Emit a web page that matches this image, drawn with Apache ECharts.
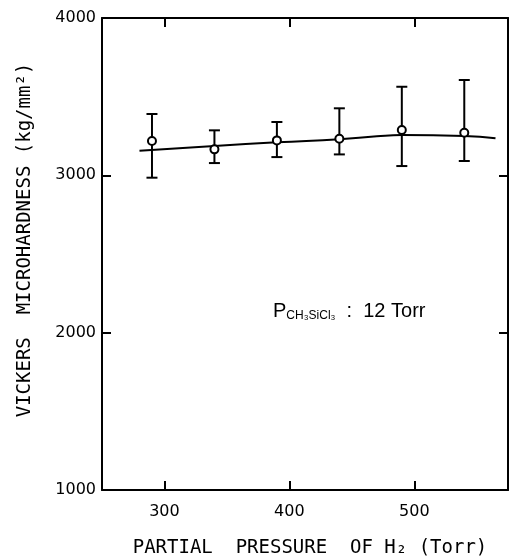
<!DOCTYPE html>
<html>
<head>
<meta charset="utf-8">
<script src="https://cdn.jsdelivr.net/npm/echarts@6/dist/echarts.min.js"></script>
<style>
  html, body { margin: 0; padding: 0; background: #fff; }
  #chart { width: 514px; height: 560px; }
</style>
</head>
<body>
<div id="chart"></div>
<script>
// measured points (H2 partial pressure, Torr)
var pressure = [290, 340, 390, 440, 490, 540];
var hardness = [3218, 3165, 3222, 3233, 3288, 3271];
var errLow   = [2985, 3078, 3116, 3133, 3059, 3091];
var errHigh  = [3390, 3286, 3339, 3426, 3563, 3606];

// hand-drawn trend curve
var fitX = [280, 340, 390, 440, 470, 490, 540, 565];
var fitY = [3156, 3186, 3210, 3229, 3248, 3256, 3250, 3236];

var xTicks = [300, 400, 500];
var yTicks = [1000, 2000, 3000, 4000];

var chart = echarts.init(document.getElementById('chart'), null, { renderer: 'canvas' });

var pointData = pressure.map(function (p, i) { return [p, hardness[i]]; });
var errData = pressure.map(function (p, i) { return [p, errLow[i], errHigh[i]]; });
var fitData = fitX.map(function (x, i) { return [x, fitY[i]]; });

var axisFont = { color: '#000', fontFamily: 'DejaVu Sans', fontSize: 16 };
var frameLine = { show: true, onZero: false, lineStyle: { color: '#000', width: 2 } };
var plain = function (v) { return String(v); };

var option = {
    animation: false,
    backgroundColor: '#fff',
    grid: { left: 102, right: 6, top: 18, bottom: 70 },
    xAxis: [
        {
            type: 'value', min: 250, max: 575, position: 'bottom',
            axisLine: frameLine,
            axisTick: { show: true, inside: true, length: 9, customValues: xTicks, lineStyle: { color: '#000', width: 2 } },
            axisLabel: Object.assign({ margin: 14, customValues: xTicks, formatter: plain }, axisFont),
            splitLine: { show: false }
        },
        {
            type: 'value', min: 250, max: 575, position: 'top',
            axisLine: frameLine,
            axisTick: { show: true, inside: true, length: 9, customValues: xTicks, lineStyle: { color: '#000', width: 2 } },
            axisLabel: { show: false },
            splitLine: { show: false }
        }
    ],
    yAxis: [
        {
            type: 'value', min: 1000, max: 4000, interval: 1000, position: 'left',
            axisLine: frameLine,
            axisTick: { show: true, inside: true, length: 9, customValues: yTicks, lineStyle: { color: '#000', width: 2 } },
            axisLabel: Object.assign({ margin: 6, customValues: yTicks, formatter: plain }, axisFont),
            splitLine: { show: false }
        },
        {
            type: 'value', min: 1000, max: 4000, interval: 1000, position: 'right',
            axisLine: frameLine,
            axisTick: { show: true, inside: true, length: 9, lineStyle: { color: '#000', width: 2 } },
            axisLabel: { show: false },
            splitLine: { show: false }
        }
    ],
    series: [
        {
            type: 'line',
            data: fitData,
            smooth: true,
            showSymbol: false,
            lineStyle: { color: '#000', width: 2 },
            z: 2
        },
        {
            type: 'custom',
            data: errData,
            renderItem: function (params, api) {
                var x = api.value(0);
                var lo = api.coord([x, api.value(1)]);
                var hi = api.coord([x, api.value(2)]);
                var w = 5.5;
                var st = { stroke: '#000', lineWidth: 2 };
                return {
                    type: 'group',
                    children: [
                        { type: 'line', shape: { x1: lo[0], y1: lo[1], x2: hi[0], y2: hi[1] }, style: st },
                        { type: 'line', shape: { x1: lo[0] - w, y1: lo[1], x2: lo[0] + w, y2: lo[1] }, style: st },
                        { type: 'line', shape: { x1: hi[0] - w, y1: hi[1], x2: hi[0] + w, y2: hi[1] }, style: st }
                    ]
                };
            },
            z: 3
        },
        {
            type: 'scatter',
            data: pointData,
            symbol: 'circle',
            symbolSize: 8,
            itemStyle: { color: '#fff', borderColor: '#000', borderWidth: 2, opacity: 1 },
            z: 4
        }
    ],
    graphic: [
        {
            type: 'text',
            left: 273, top: 301,
            style: {
                text: 'P{sub|CH₃SiCl₃}  :  12 Torr',
                fill: '#000',
                font: '20px "Liberation Sans"',
                rich: {
                    sub: { fontSize: 12, fontFamily: 'Liberation Sans', fill: '#000', padding: [9, 0, 0, 0] }
                }
            }
        },
        {
            type: 'text',
            x: 310, y: 548,
            style: {
                text: 'PARTIAL  PRESSURE  OF H₂ (Torr)',
                fill: '#000',
                font: '19px "DejaVu Sans Mono"',
                align: 'center',
                verticalAlign: 'middle'
            }
        },
        {
            type: 'text',
            x: 25, y: 240,
            rotation: Math.PI / 2,
            style: {
                text: 'VICKERS  MICROHARDNESS (kg/mm²)',
                fill: '#000',
                font: '19px "DejaVu Sans Mono"',
                align: 'center',
                verticalAlign: 'middle'
            }
        }
    ]
};

chart.setOption(option);
</script>
</body>
</html>
